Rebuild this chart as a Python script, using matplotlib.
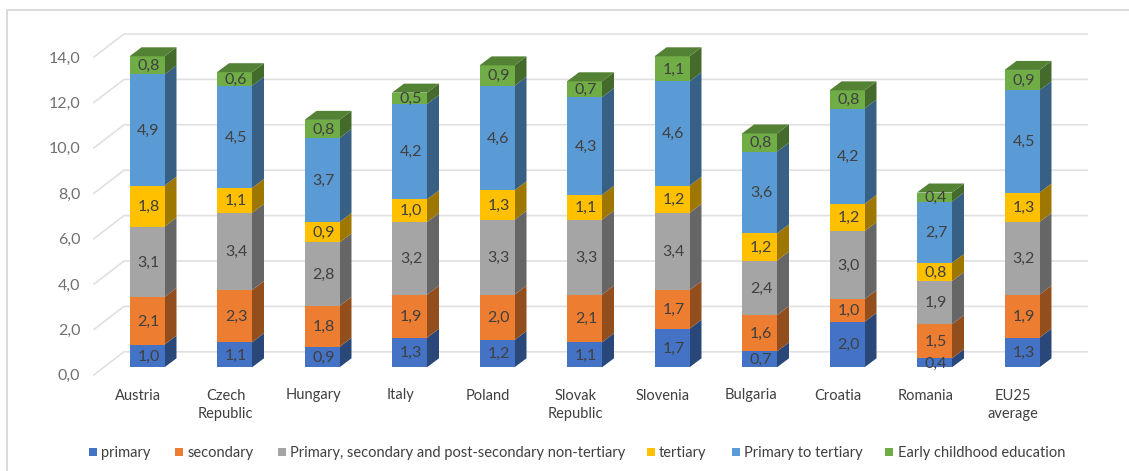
import matplotlib
matplotlib.use("Agg")
import matplotlib.pyplot as plt
from matplotlib.colors import to_rgb
from matplotlib.patches import Polygon, Rectangle

countries = ["Austria", "Czech\nRepublic", "Hungary", "Italy", "Poland", "Slovak\nRepublic",
             "Slovenia", "Bulgaria", "Croatia", "Romania", "EU25\naverage"]
primary = [1.0, 1.1, 0.9, 1.3, 1.2, 1.1, 1.7, 0.7, 2.0, 0.4, 1.3]
secondary = [2.1, 2.3, 1.8, 1.9, 2.0, 2.1, 1.7, 1.6, 1.0, 1.5, 1.9]
non_tertiary = [3.1, 3.4, 2.8, 3.2, 3.3, 3.3, 3.4, 2.4, 3.0, 1.9, 3.2]
tertiary = [1.8, 1.1, 0.9, 1.0, 1.3, 1.1, 1.2, 1.2, 1.2, 0.8, 1.3]
primary_to_tertiary = [4.9, 4.5, 3.7, 4.2, 4.6, 4.3, 4.6, 3.6, 4.2, 2.7, 4.5]
early_childhood = [0.8, 0.6, 0.8, 0.5, 0.9, 0.7, 1.1, 0.8, 0.8, 0.4, 0.9]
y_ticks = [0, 2, 4, 6, 8, 10, 12, 14]

series = [
    ("primary", primary, "#4472C4"),
    ("secondary", secondary, "#ED7D31"),
    ("Primary, secondary and post-secondary non-tertiary", non_tertiary, "#A5A5A5"),
    ("tertiary", tertiary, "#FFC000"),
    ("Primary to tertiary", primary_to_tertiary, "#5B9BD5"),
    ("Early childhood education", early_childhood, "#70AD47"),
]

W, H = 1129, 471
X0, STEP = 147.0, 87.5       # pixel centre of first bar, spacing between bars
Y0, UNIT = 367.3, 22.7       # pixel baseline, pixels per unit
BAR_W = 35.0 / STEP
DX, DY = 12.0 / STEP, 9.0 / UNIT        # depth of the bars
WX, WY = 30.0 / STEP, 23.0 / UNIT       # depth of the back wall offset
TXT = "#404040"
GRID = "#E0E0E0"


def shade(color, f):
    return tuple(c * f for c in to_rgb(color))


plt.rcParams["font.family"] = ["Lato", "DejaVu Sans"]
fig = plt.figure(figsize=(W / 100, H / 100), dpi=100)
ax = fig.add_axes([0, 0, 1, 1])
ax.set_xlim(-X0 / STEP, (W - X0) / STEP)
ax.set_ylim(-(H - Y0) / UNIT, Y0 / UNIT)
ax.axis("off")

px = lambda p: (p - X0) / STEP
py = lambda p: (Y0 - p) / UNIT

# outer chart frame: only its top and left edges fall inside the canvas
ax.plot([px(1129), px(7), px(7)], [py(10), py(10), py(471)], color="#DADADA", lw=1.4, zorder=0)

# floor and back-wall gridlines, with the value labels beside them
x_left = px(94)
x_wall = x_left + WX
x_right = px(1087)
for t in y_ticks:
    y = t - 7.5 / UNIT
    ax.plot([x_left, x_wall, x_right], [y, y + WY, y + WY], color=GRID, lw=1.2, zorder=1)
    ax.text(px(80.5), y - 1.5 / UNIT, f"{t:.1f}".replace(".", ","), ha="right", va="center",
            fontsize=11.5, color="#707070", zorder=5)

# bars, stacked bottom to top: side and top faces are darker shades of the front
for i, name in enumerate(countries):
    base = 0.0
    left, right = i - BAR_W / 2, i + BAR_W / 2
    for _, vals, col in series:
        v = vals[i]
        top = base + v
        ax.add_patch(Polygon([(right, base), (right + DX, base + DY), (right + DX, top + DY), (right, top)],
                             fc=shade(col, 0.62), ec="none", zorder=2 + base * 0.01))
        ax.add_patch(Rectangle((left, base), BAR_W, v, fc=col, ec="none", zorder=3))
        ax.text(i + 1.5 / STEP, base + v / 2 - 0.03, f"{v:.1f}".replace(".", ","), ha="center", va="center",
                fontsize=11.5, color=TXT, zorder=6)
        base = top
    ax.add_patch(Polygon([(left, base), (left + DX, base + DY), (right + DX, base + DY), (right, base)],
                         fc=shade(series[-1][2], 0.75), ec="none", zorder=3))
    ax.text(i - 9 / STEP, py(388.5), name, ha="center", va="top", fontsize=10.5, color=TXT,
            linespacing=1.45, zorder=6)

# legend row
leg_x = [89, 175, 278, 646.5, 731.5, 885]
for (label, _, col), lx in zip(series, leg_x):
    ax.add_patch(Rectangle((px(lx), py(456)), 8 / STEP, 8 / UNIT, fc=col, ec="none", zorder=6))
    ax.text(px(lx + 12.5), py(452.5), label, ha="left", va="center", fontsize=10.5, color=TXT, zorder=6)

fig.savefig("out.png", dpi=100, facecolor="white")
